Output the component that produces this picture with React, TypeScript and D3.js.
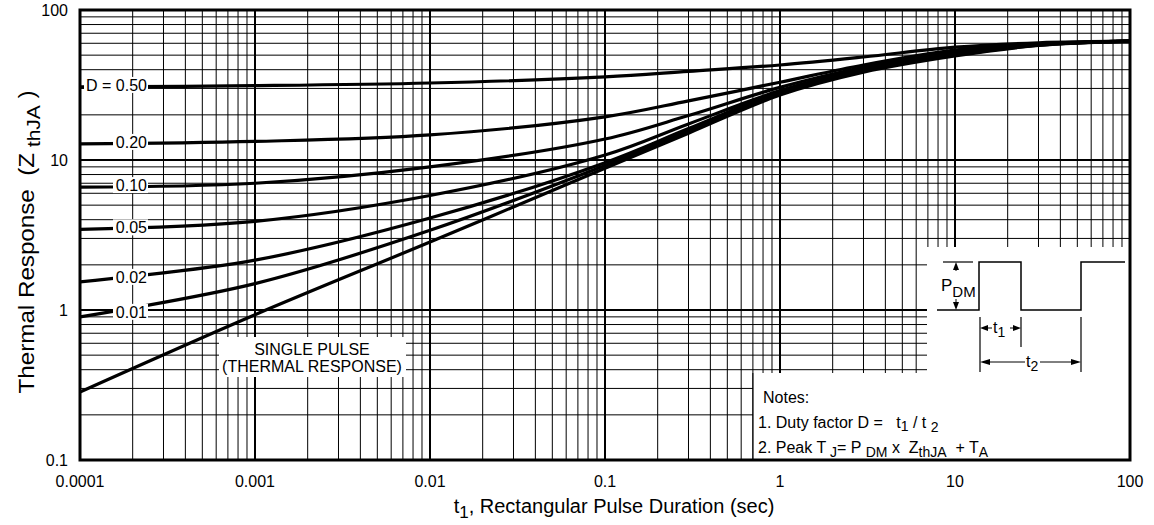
import React, { useEffect } from 'react';
import * as d3 from 'd3';

// pulse duration (sec) where the curves were read
const pulseTimes = [0.0001, 0.001, 0.01, 0.1, 0.3, 1, 3, 10, 30, 100];

// Zth values, one array per duty factor
const d050 = [30.7, 31.3, 32.6, 35.8, 39, 43, 48.6, 56.5, 60.5, 62];
const d020 = [12.8, 13.3, 14.7, 19.4, 24.8, 33, 43, 54, 59.5, 62];
const d010 = [6.6, 7.0, 9.0, 13.8, 19.8, 30.5, 41.5, 52.5, 59, 62];
const d005 = [3.45, 3.9, 5.8, 10.8, 17.4, 29, 40.5, 51.7, 58.8, 62];
const d002 = [1.54, 2.15, 4.1, 9.6, 16.2, 28.4, 39.8, 50.9, 58.5, 62];
const d001 = [0.9, 1.5, 3.4, 9.2, 15.6, 27.9, 39.2, 50, 58.3, 62];
const single = [0.284, 0.93, 2.84, 8.8, 15.1, 27.1, 38.5, 49.4, 58, 62];

const seriesList = [d050, d020, d010, d005, d002, d001, single];
const dutyLabels = ['D = 0.50', '0.20', '0.10', '0.05', '0.02', '0.01'];

const xTickValues = [0.0001, 0.001, 0.01, 0.1, 1, 10, 100];
const xTickLabels = ['0.0001', '0.001', '0.01', '0.1', '1', '10', '100'];
const yTickValues = [0.1, 1, 10, 100];
const yTickLabels = ['0.1', '1', '10', '100'];

const W = 1154;
const H = 525;
const margin = { left: 80, right: 24, top: 10, bottom: 65 };
const FONT = 'Liberation Sans, Arial, sans-serif';

const App = () => {
  useEffect(() => {
    document.body.style.margin = '0';
  }, []);

  const x = d3
    .scaleLog()
    .domain([0.0001, 100])
    .range([margin.left, W - margin.right]);
  const y = d3
    .scaleLog()
    .domain([0.1, 100])
    .range([H - margin.bottom, margin.top]);

  const line = d3
    .line<number>()
    .x((_, i) => x(pulseTimes[i]))
    .y((d) => y(d))
    .curve(d3.curveCatmullRom.alpha(0.5));

  // minor grid values
  const xGrid: number[] = [];
  for (let e = -4; e < 2; e++) for (let m = 1; m < 10; m++) xGrid.push(m * Math.pow(10, e));
  const yGrid: number[] = [];
  for (let e = -1; e < 2; e++) for (let m = 1; m < 10; m++) yGrid.push(m * Math.pow(10, e));

  const x0 = x.range()[0];
  const x1 = x.range()[1];
  const y0 = y.range()[1];
  const y1 = y.range()[0];

  // inset (pulse drawing) and notes box
  const insetL = 927;
  const insetT = 247;
  const notesL = 753;
  const notesT = 373;
  const base = 310;
  const top = 262;

  return (
    <svg width={W} height={H} style={{ display: 'block' }} fontFamily={FONT}>
      <rect width={W} height={H} fill="#fff" />
      <defs>
        <clipPath id="plot">
          <rect x={x0} y={y0} width={x1 - x0} height={y1 - y0} />
        </clipPath>
      </defs>

      {/* grid */}
      <g stroke="#000">
        {xGrid.map((v, i) => (
          <line key={'vx' + i} x1={x(v)} x2={x(v)} y1={y0} y2={y1} strokeWidth={i % 9 === 0 ? 2 : 1} />
        ))}
        {yGrid.map((v, i) => (
          <line key={'hy' + i} x1={x0} x2={x1} y1={y(v)} y2={y(v)} strokeWidth={i % 9 === 0 ? 2 : 1} />
        ))}
      </g>

      {/* curves */}
      <g clipPath="url(#plot)" fill="none" stroke="#000" strokeWidth={3.2}>
        {seriesList.map((s, i) => (
          <path key={i} d={line(s) || ''} />
        ))}
      </g>

      {/* duty labels */}
      <g fontSize={16} textAnchor="end">
        {dutyLabels.map((lab, i) => {
          const yy = y(seriesList[i][0]) + (i < 4 ? -2 : -5);
          const w = i === 0 ? 64 : 35;
          return (
            <g key={lab}>
              <rect x={148 - w} y={yy - 8} width={w} height={16} fill="#fff" />
              <text x={147} y={yy + 6}>
                {lab}
              </text>
            </g>
          );
        })}
      </g>

      {/* single pulse label */}
      <rect x={219} y={337} width={187} height={40} fill="#fff" />
      <text x={312} y={355} fontSize={16} textAnchor="middle">
        SINGLE PULSE
      </text>
      <text x={312} y={372} fontSize={16} textAnchor="middle">
        (THERMAL RESPONSE)
      </text>

      {/* inset and notes */}
      <rect x={insetL} y={insetT} width={x1 - insetL} height={notesT - insetT + 1} fill="#fff" />
      <rect x={notesL} y={notesT} width={x1 - notesL} height={y1 - notesT} fill="#fff" />
      <line x1={notesL} x2={notesL} y1={notesT} y2={y1} stroke="#000" strokeWidth={1.2} />

      <g stroke="#000" fill="none" strokeWidth={1.5}>
        <path d={`M937,${base}H979V${top}H1021V${base}H1081V${top}H1125`} />
        <line x1={943} x2={973} y1={top} y2={top} strokeWidth={1.2} />
        <line x1={956} x2={956} y1={top + 4} y2={271} strokeWidth={1} />
        <line x1={956} x2={956} y1={299} y2={base - 4} strokeWidth={1} />
        <line x1={980} x2={980} y1={317} y2={372} strokeWidth={1.2} />
        <line x1={1021} x2={1021} y1={317} y2={347} strokeWidth={1.2} />
        <line x1={1081} x2={1081} y1={317} y2={372} strokeWidth={1.2} />
        <line x1={984} x2={992} y1={328} y2={328} strokeWidth={1} />
        <line x1={1010} x2={1017} y1={328} y2={328} strokeWidth={1} />
        <line x1={984} x2={1025} y1={362} y2={362} strokeWidth={1} />
        <line x1={1040} x2={1077} y1={362} y2={362} strokeWidth={1} />
      </g>
      <g fill="#000">
        <path d={`M956,${top}l-3,8h6z`} />
        <path d={`M956,${base}l-3,-8h6z`} />
        <path d="M980,328l8,-3v6z" />
        <path d="M1021,328l-8,-3v6z" />
        <path d="M980,362l10,-3v6z" />
        <path d="M1081,362l-10,-3v6z" />
      </g>
      <text x={941} y={291} fontSize={17}>
        P<tspan fontSize={15} dy={6}>DM</tspan>
      </text>
      <text x={993} y={333} fontSize={16}>
        t<tspan fontSize={14} dy={4}>1</tspan>
      </text>
      <text x={1026} y={367} fontSize={16}>
        t<tspan fontSize={14} dy={4}>2</tspan>
      </text>

      <g fontSize={16}>
        <text x={763} y={403}>Notes:</text>
        <text x={758} y={428}>
          1. Duty factor D ={'\u00a0\u00a0\u00a0'}t<tspan fontSize={14} dy={3}>1</tspan>
          <tspan dy={-3}> / t </tspan>
          <tspan fontSize={14} dy={4}>2</tspan>
        </text>
        <text x={758} y={453}>
          2. Peak T<tspan fontSize={14} dy={4}> J</tspan>
          <tspan dy={-4}>= P </tspan>
          <tspan fontSize={14} dy={4}>DM</tspan>
          <tspan dy={-4}> x{'\u00a0\u00a0'}Z</tspan>
          <tspan fontSize={14} dy={4}>thJA</tspan>
          <tspan dy={-4}>{'\u00a0\u00a0'}+ T</tspan>
          <tspan fontSize={14} dy={4}>A</tspan>
        </text>
      </g>

      {/* frame */}
      <rect x={x0} y={y0} width={x1 - x0} height={y1 - y0} fill="none" stroke="#000" strokeWidth={3} />

      {/* tick labels */}
      <g fontSize={16}>
        {xTickValues.map((v, i) => (
          <text key={'xt' + i} x={x(v)} y={487} textAnchor="middle">
            {xTickLabels[i]}
          </text>
        ))}
        {yTickValues.map((v, i) => (
          <text key={'yt' + i} x={68} y={y(v) + 6} textAnchor="end">
            {yTickLabels[i]}
          </text>
        ))}
      </g>

      {/* axis titles */}
      <text x={614} y={513} fontSize={20} textAnchor="middle">
        t<tspan fontSize={17} dy={5}>1</tspan>
        <tspan dy={-5}>, Rectangular Pulse Duration (sec)</tspan>
      </text>
      <text transform="translate(34,242) rotate(-90) scale(1.1,1)" fontSize={22} textAnchor="middle">
        Thermal Response{'\u00a0\u00a0'}(Z<tspan fontSize={19} dy={6}>{'\u00a0'}thJA</tspan>
        <tspan dy={-6}>{'\u00a0'})</tspan>
      </text>
    </svg>
  );
};

export default App;
